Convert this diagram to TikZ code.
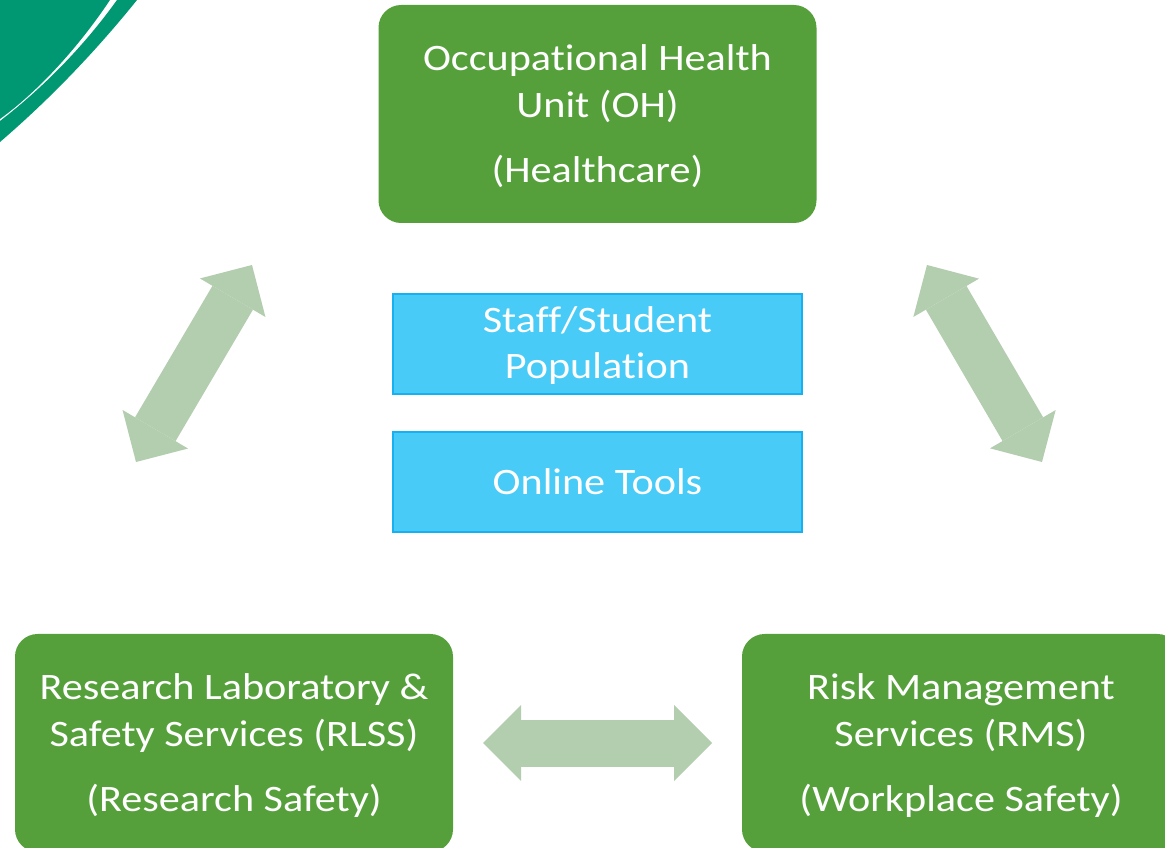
\documentclass[tikz,border=0pt]{standalone}
\usepackage{fontspec}
\setmainfont{Carlito}[FakeStretch=1.13,Ligatures=NoCommon]
\usetikzlibrary{arrows.meta}
\definecolor{boxgreen}{HTML}{56A03C}
\definecolor{arrowgreen}{HTML}{B3CDAF}
\definecolor{boxblue}{HTML}{48CBF7}
\definecolor{boxblueline}{HTML}{17B0F0}
\definecolor{teal}{HTML}{009872}
\begin{document}
\begin{tikzpicture}[x=0.75pt,y=-0.75pt,
    greenbox/.style={rectangle,rounded corners=17pt,fill=boxgreen,
      minimum width=328.5pt,minimum height=163.5pt,inner sep=0pt},
    bluebox/.style={rectangle,fill=boxblue,draw=boxblueline,line width=1.2pt,
      text=white,minimum width=306.75pt,minimum height=75pt,inner sep=0pt,
      align=center,font=\fontsize{28}{34}\selectfont},
    boxtext/.style={text=white,align=center,font=\fontsize{28}{35}\selectfont},
    fatarrow/.style={draw=arrowgreen,line width=35.25pt,
      >={Triangle[width=57pt,length=28.5pt,line width=0pt]},<->}]
  \useasboundingbox (0,0) rectangle (1165,848); \clip (0,0) rectangle (1165,848);
  \fill[white] (0,0) rectangle (1165,848);
  % corner mark
  \fill[teal] (0,0) -- (110,0) .. controls (80,45) and (40,90) .. (0,119) -- cycle;
  \fill[teal] (117,0) -- (137,0) .. controls (96,51) and (50,99) .. (0,142)
  -- (0,121) .. controls (44,87) and (84,46) .. (117,0) -- cycle;
  \node[greenbox] (oh) at (597.5,114) {};
  \node[boxtext] (ohtxt) at (oh.center) [yshift=-1.9pt]
    {Occupational Health\\Unit (OH)\\[14pt](Healthcare)};
  \node[greenbox] (rlss) at (234,743) {};
  \node[boxtext] (rlsstxt) at (rlss.center) [yshift=-1.9pt]
    {Research Laboratory \&\\Safety Services (RLSS)\\[14pt](Research Safety)};
  \node[greenbox] (rms) at (961,743) {};
  \node[boxtext] (rmstxt) at (rms.center) [yshift=-1.9pt]
    {Risk Management\\Services (RMS)\\[14pt](Workplace Safety)};
  \node[bluebox] (pop) at (597.5,344) {};
  \node[boxtext,font=\fontsize{28}{34}\selectfont] (poptxt) at (pop.center)
    [yshift=-1.1pt] {Staff/Student\\Population};
  \node[bluebox] (tools) at (597.5,482) {Online Tools};
  \coordinate (la) at (136,462); \coordinate (lb) at (252,265);
  \coordinate (ra) at (927,265); \coordinate (rb) at (1042,462);
  \coordinate (ba) at (483,743); \coordinate (bb) at (712,743);
  \draw[fatarrow] (la) -- (lb); \draw[fatarrow] (ra) -- (rb);
  \draw[fatarrow] (ba) -- (bb);
\end{tikzpicture}
\end{document}
